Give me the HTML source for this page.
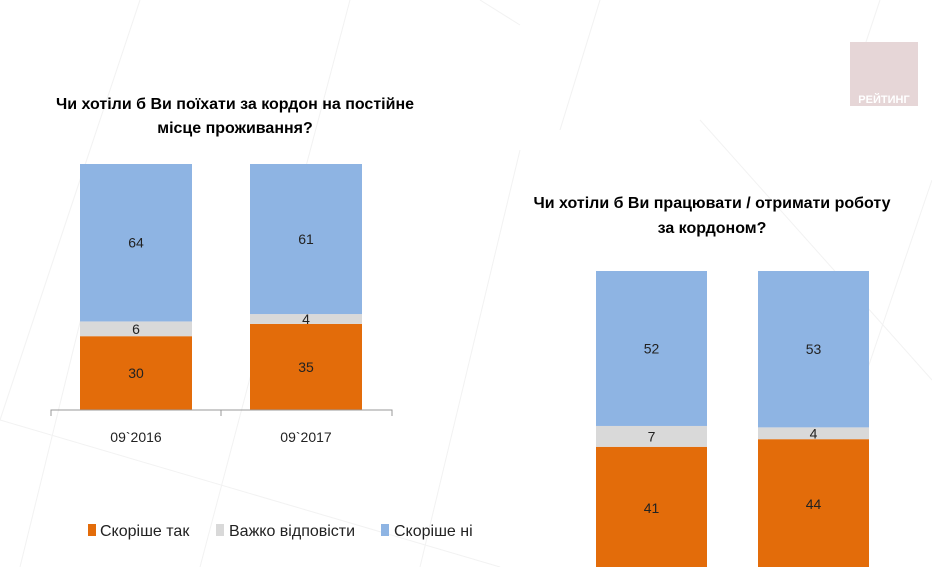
<!DOCTYPE html>
<html><head><meta charset="utf-8"><style>
html,body{margin:0;padding:0;background:#fff;}
svg{display:block;font-family:"Liberation Sans",sans-serif;}
</style></head><body>
<svg id="c" width="932" height="567" viewBox="0 0 932 567">
<g stroke="#f2f2f2" stroke-width="1">
<line x1="20" y1="567" x2="110" y2="200"/><line x1="140" y1="0" x2="0" y2="420"/>
<line x1="350" y1="0" x2="200" y2="567"/><line x1="0" y1="420" x2="500" y2="567"/>
<line x1="520" y1="150" x2="420" y2="567"/><line x1="600" y1="0" x2="560" y2="130"/>
<line x1="700" y1="120" x2="932" y2="380"/><line x1="932" y1="180" x2="800" y2="567"/>
<line x1="480" y1="0" x2="520" y2="25"/><line x1="880" y1="0" x2="860" y2="60"/>
</g>
<g>
<rect x="850" y="42" width="68" height="64" fill="#e6d6d7"/>
<text x="884" y="103" text-anchor="middle" fill="#fff" font-weight="bold" font-size="11">РЕЙТИНГ</text>
</g>
<g font-weight="bold" font-size="16" fill="#000" text-anchor="middle">
<text x="235" y="109">Чи хотіли б Ви поїхати за кордон на постійне<tspan x="235" y="133">місце проживання?</tspan></text>
<text x="712" y="208">Чи хотіли б Ви працювати / отримати роботу<tspan x="712" y="233">за кордоном?</tspan></text>
</g>
<g id="left"></g>
<g id="right"></g>
<g font-size="16" fill="#222">
<g><rect x="88" y="524" width="8" height="12" fill="#e36c0a"/><text x="100" y="536">Скоріше так</text></g>
<g><rect x="216" y="524" width="8" height="12" fill="#d9d9d9"/><text x="229" y="536">Важко відповісти</text></g>
<g><rect x="381" y="524" width="8" height="12" fill="#8eb4e3"/><text x="394" y="536">Скоріше ні</text></g>
</g>
</svg>
<script>
const leftCategories = ["09`2016", "09`2017"];
const leftYes = [30, 35];
const leftHard = [6, 4];
const leftNo = [64, 61];
const rightYes = [41, 44];
const rightHard = [7, 4];
const rightNo = [52, 53];
const colors = ["#e36c0a", "#d9d9d9", "#8eb4e3"];
const NS = "http://www.w3.org/2000/svg";
function mk(tag, attrs, parent){const e=document.createElementNS(NS,tag);for(const k in attrs)e.setAttribute(k,attrs[k]);parent.appendChild(e);return e;}
function draw(g, cfg, series, cats){
  for(let i=0;i<series[0].length;i++){
    const total = series.reduce((a,s)=>a+s[i],0);
    const sc = cfg.scale*100/total;
    const y = v => cfg.bottom - v * sc;
    let acc=0;
    const x = cfg.x0 + i*cfg.step;
    series.forEach((s,si)=>{
      const r = mk("rect",{x:x,y:y(acc+s[i]),width:cfg.w,height:s[i]*sc,fill:colors[si]},g);
      
      
      const t = mk("text",{x:x+cfg.w/2,y:y(acc+s[i]/2)+5,"text-anchor":"middle","font-size":"14",fill:"#222"},g);
      
      
      t.textContent = s[i];
      acc += s[i];
    });
  }
  if(cats){
    const ax = mk("path",{d:`M51 416V${cfg.bottom}H392V416M221 ${cfg.bottom}V416`,stroke:"#999",fill:"none"},g);
    
    
    cats.forEach((c,i)=>{
      const t = mk("text",{x:cfg.x0+i*cfg.step+cfg.w/2,y:442,"text-anchor":"middle","font-size":"14",fill:"#222"},g);
      
      
      t.textContent = c;
    });
  }
}
draw(document.getElementById("left"),{x0:80,step:170,w:112,bottom:410,scale:2.46},[leftYes,leftHard,leftNo],leftCategories);
draw(document.getElementById("right"),{x0:596,step:162,w:111,bottom:569,scale:2.98},[rightYes,rightHard,rightNo],null);
</script>
</body></html>
